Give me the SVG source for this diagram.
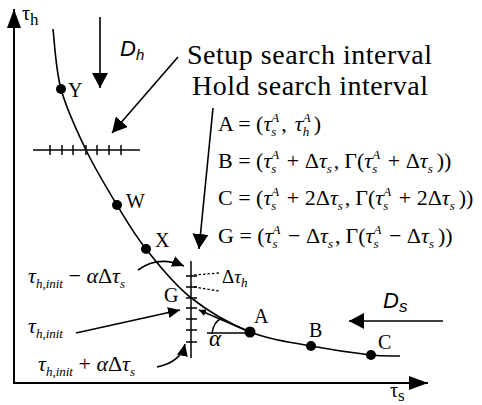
<svg xmlns="http://www.w3.org/2000/svg" width="482" height="405" viewBox="0 0 482 405">
<style>
.ax{stroke:#000;stroke-width:2;fill:none}
.ln{stroke:#000;stroke-width:1.6;fill:none}
.tk{stroke:#000;stroke-width:1.5}
.dot{fill:#000}
.t{font-family:'Liberation Serif','DejaVu Serif',serif;fill:#000}
.lab{font-size:20px}
.big{font-size:28px}
.f{font-size:22px}
.i{font-style:italic}
.sc{font-size:13px;font-style:italic}
.sans{font-family:'Liberation Sans',Arial,sans-serif;font-style:italic;fill:#000}
</style>
<defs>
<marker id="mBig" markerUnits="userSpaceOnUse" markerWidth="20" markerHeight="14" refX="19" refY="7" orient="auto"><path d="M0,0 L19,7 L0,14 z" fill="#000"/></marker>
<marker id="mMed" markerUnits="userSpaceOnUse" markerWidth="16" markerHeight="16" refX="15" refY="8" orient="auto"><path d="M0,0 L15,8 L0,16 z" fill="#000"/></marker>
<marker id="mSm" markerUnits="userSpaceOnUse" markerWidth="13" markerHeight="11" refX="12" refY="5.5" orient="auto"><path d="M0,0 L12,5.5 L0,11 z" fill="#000"/></marker>
<marker id="mTiny" markerUnits="userSpaceOnUse" markerWidth="8" markerHeight="7" refX="7" refY="3.5" orient="auto"><path d="M0,0 L7,3.5 L0,7 z" fill="#000"/></marker>
</defs>

<g id="axes">
<line class="ax" x1="14" y1="384" x2="14" y2="9" marker-end="url(#mBig)"/>
<line class="ax" x1="13" y1="383" x2="428" y2="383" marker-end="url(#mBig)"/>
<text class="t" font-family="Liberation Serif" x="22" y="20" font-size="20">τ<tspan font-size="17" dy="5">h</tspan></text>
<text class="t" font-family="Liberation Serif" x="390" y="397" font-size="20">τ<tspan font-size="17" dy="4">s</tspan></text>
</g>

<g id="curve">
<path class="ln" d="M53,29 C54.3,39 55.5,68.8 61,89 C66.5,109.2 76.7,130.7 86,150 C95.3,169.3 107,188.5 117,205 C127,221.5 133.8,233.7 146,249 C158.2,264.3 172.7,283.2 190,297 C207.3,310.8 229.8,323.8 250,332 C270.2,340.2 290.8,342.2 311,346 C331.2,349.8 356.2,353.3 371,355 C385.8,356.7 395.2,355.8 400,356"/>
</g>

<g id="hold-interval">
<line class="tk" x1="33" y1="150" x2="140" y2="150"/>
<path class="tk" d="M50,145V155 M62,145V155 M73,145V155 M86,145V155 M97,145V155 M109,145V155 M121,145V155"/>
</g>

<g id="setup-interval">
<line class="tk" x1="191" y1="261" x2="191" y2="358"/>
<path class="tk" d="M186,276H197 M186,287H197 M186,298H197 M186,308H197 M186,319H197 M186,330H197 M186,342H197"/>
<path d="M194,275 L219,273 M194,287 L219,291" stroke="#000" stroke-width="1.3" stroke-dasharray="2.5,2" fill="none"/>
<text class="t" font-family="Liberation Serif" x="222" y="283" font-size="19">Δ<tspan class="i">τ</tspan><tspan class="sc" dy="4">h</tspan></text>
</g>

<g id="node-Y"><circle class="dot" cx="61" cy="89" r="5"/><text class="t lab" font-family="Liberation Serif" x="68" y="97">Y</text></g>
<g id="node-W"><circle class="dot" cx="117" cy="205" r="5"/><text class="t lab" font-family="Liberation Serif" x="126" y="208">W</text></g>
<g id="node-X"><circle class="dot" cx="146" cy="249" r="5"/><text class="t lab" font-family="Liberation Serif" x="155" y="247">X</text></g>
<g id="node-G"><text class="t lab" font-family="Liberation Serif" x="164" y="302">G</text></g>
<g id="node-A"><circle class="dot" cx="250" cy="332" r="5.5"/><text class="t lab" font-family="Liberation Serif" x="254" y="323">A</text></g>
<g id="node-B"><circle class="dot" cx="311" cy="346" r="5"/><text class="t lab" font-family="Liberation Serif" x="309" y="337">B</text></g>
<g id="node-C"><circle class="dot" cx="371" cy="355" r="5"/><text class="t lab" font-family="Liberation Serif" x="378" y="349">C</text></g>

<g id="angle">
<line class="tk" x1="207" y1="333" x2="250" y2="333"/>
<path class="tk" fill="none" d="M212,334 Q213,322 222,318"/>
<text class="t i" font-family="Liberation Serif" x="209" y="346" font-size="23">α</text>
</g>

<g id="labels" font-family="Liberation Serif">
<text class="t big" x="187" y="64" textLength="245">Setup search interval</text>
<text class="t big" x="192" y="95" textLength="236">Hold search interval</text>
<text class="sans" x="120" y="56" font-size="22">D<tspan font-size="15" dy="4">h</tspan></text>
<text class="sans" x="383" y="308" font-size="22">D<tspan font-size="17" dy="4">s</tspan></text>
<text class="t f" x="218" y="131">A = (<tspan class="i">τ</tspan><tspan class="sc" dy="5">s</tspan><tspan class="sc" dx="-5" dy="-14">A</tspan><tspan dy="9" dx="2">,</tspan><tspan class="i" dx="8">τ</tspan><tspan class="sc" dy="5">h</tspan><tspan class="sc" dx="-6.5" dy="-14">A</tspan><tspan dy="9" dx="3">)</tspan></text>
<text class="t f" x="218" y="168">B = (<tspan class="i">τ</tspan><tspan class="sc" dy="5">s</tspan><tspan class="sc" dx="-5" dy="-14">A</tspan><tspan dy="9" dx="2"> + Δ</tspan><tspan class="i">τ</tspan><tspan class="sc" dy="5">s</tspan><tspan dy="-5" dx="2">,</tspan><tspan dx="5">Γ(</tspan><tspan class="i">τ</tspan><tspan class="sc" dy="5">s</tspan><tspan class="sc" dx="-5" dy="-14">A</tspan><tspan dy="9" dx="2"> + Δ</tspan><tspan class="i">τ</tspan><tspan class="sc" dy="5">s</tspan><tspan dy="-5" dx="4">))</tspan></text>
<text class="t f" x="218" y="205">C = (<tspan class="i">τ</tspan><tspan class="sc" dy="5">s</tspan><tspan class="sc" dx="-5" dy="-14">A</tspan><tspan dy="9" dx="2"> + 2Δ</tspan><tspan class="i">τ</tspan><tspan class="sc" dy="5">s</tspan><tspan dy="-5" dx="2">,</tspan><tspan dx="5">Γ(</tspan><tspan class="i">τ</tspan><tspan class="sc" dy="5">s</tspan><tspan class="sc" dx="-5" dy="-14">A</tspan><tspan dy="9" dx="2"> + 2Δ</tspan><tspan class="i">τ</tspan><tspan class="sc" dy="5">s</tspan><tspan dy="-5" dx="4">))</tspan></text>
<text class="t f" x="218" y="243">G = (<tspan class="i">τ</tspan><tspan class="sc" dy="5">s</tspan><tspan class="sc" dx="-5" dy="-14">A</tspan><tspan dy="9" dx="2"> − Δ</tspan><tspan class="i">τ</tspan><tspan class="sc" dy="5">s</tspan><tspan dy="-5" dx="2">,</tspan><tspan dx="5">Γ(</tspan><tspan class="i">τ</tspan><tspan class="sc" dy="5">s</tspan><tspan class="sc" dx="-5" dy="-14">A</tspan><tspan dy="9" dx="2"> − Δ</tspan><tspan class="i">τ</tspan><tspan class="sc" dy="5">s</tspan><tspan dy="-5" dx="4">))</tspan></text>
<text class="t" x="28" y="283" font-size="22"><tspan class="i">τ</tspan><tspan class="sc" font-size="14" dy="5">h,init</tspan><tspan dy="-5"> − </tspan><tspan class="i">α</tspan>Δ<tspan class="i">τ</tspan><tspan class="sc" dy="5">s</tspan></text>
<text class="t" x="28" y="333" font-size="22"><tspan class="i">τ</tspan><tspan class="sc" font-size="14" dy="5">h,init</tspan></text>
<text class="t" x="38" y="371" font-size="22"><tspan class="i">τ</tspan><tspan class="sc" font-size="14" dy="5">h,init</tspan><tspan dy="-5"> + </tspan><tspan class="i">α</tspan>Δ<tspan class="i">τ</tspan><tspan class="sc" dy="5">s</tspan></text>
</g>

<g id="connectors">
<line class="ln" x1="100" y1="17" x2="100" y2="88" marker-end="url(#mMed)"/>
<line class="ln" x1="443" y1="321" x2="349" y2="321" marker-end="url(#mMed)"/>
<line class="ln" x1="178" y1="57" x2="112" y2="133" marker-end="url(#mMed)"/>
<line class="ln" x1="213" y1="108" x2="199" y2="249" marker-end="url(#mMed)"/>
<path class="ln" d="M138,270 Q158,255 184,266" marker-end="url(#mSm)"/>
<line class="ln" x1="76" y1="333" x2="180" y2="310" marker-end="url(#mSm)"/>
<path class="ln" d="M157,367 Q181,362 185,344" marker-end="url(#mSm)"/>
<line class="tk" x1="250" y1="332" x2="199" y2="310" marker-end="url(#mTiny)"/>
</g>
</svg>
